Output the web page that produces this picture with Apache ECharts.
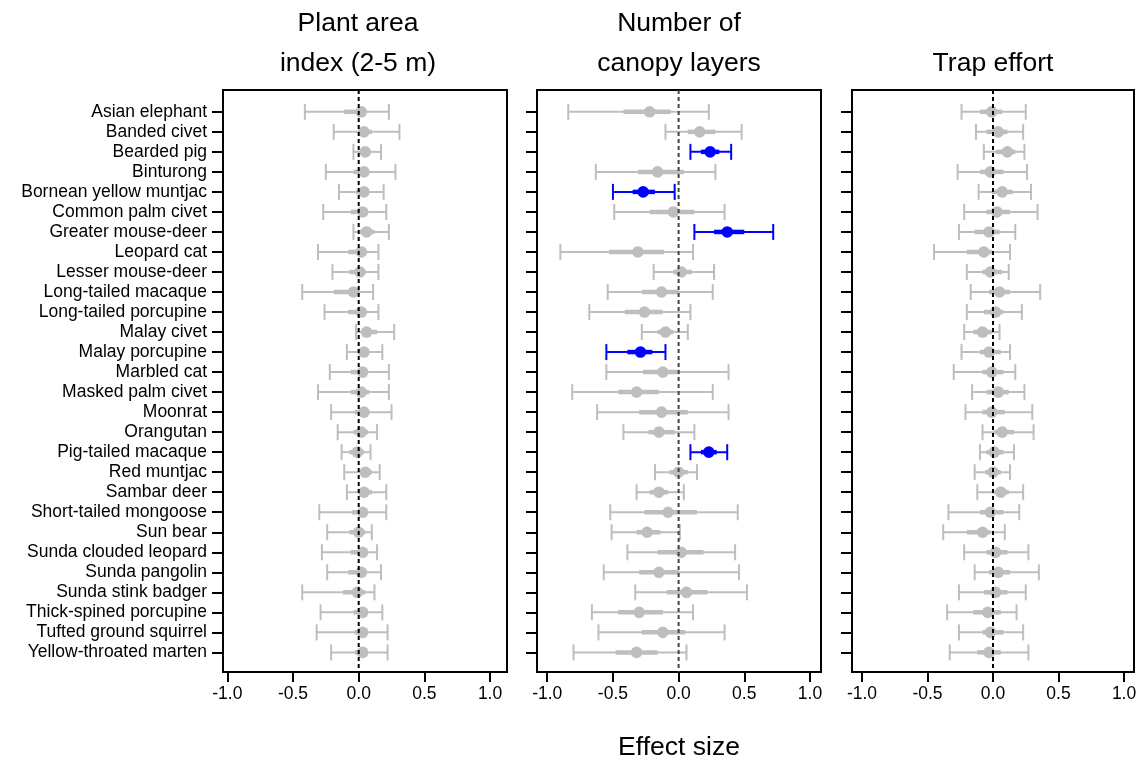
<!DOCTYPE html>
<html>
<head>
<meta charset="utf-8">
<script src="https://cdn.jsdelivr.net/npm/echarts@6/dist/echarts.min.js"></script>
<style>
html,body{margin:0;padding:0;background:#fff;}
#chart{width:1146px;height:763px;}
</style>
</head>
<body>
<div id="chart"></div>
<script>
const species = ["Asian elephant","Banded civet","Bearded pig","Binturong","Bornean yellow muntjac","Common palm civet","Greater mouse-deer","Leopard cat","Lesser mouse-deer","Long-tailed macaque","Long-tailed porcupine","Malay civet","Malay porcupine","Marbled cat","Masked palm civet","Moonrat","Orangutan","Pig-tailed macaque","Red muntjac","Sambar deer","Short-tailed mongoose","Sun bear","Sunda clouded leopard","Sunda pangolin","Sunda stink badger","Thick-spined porcupine","Tufted ground squirrel","Yellow-throated marten"];
const xTicks = [-1, -0.5, 0, 0.5, 1];

// Panel 1: Plant area index (2-5 m)
const paiEst  = [0.02,0.04,0.05,0.04,0.04,0.03,0.06,0.02,0.01,-0.04,0.02,0.06,0.04,0.03,0.02,0.04,0.02,-0.01,0.05,0.04,0.03,0.00,0.03,0.02,-0.01,0.03,0.03,0.03];
const paiLo   = [-0.41,-0.19,-0.04,-0.25,-0.15,-0.27,-0.04,-0.31,-0.20,-0.43,-0.26,-0.02,-0.09,-0.22,-0.31,-0.21,-0.16,-0.13,-0.11,-0.09,-0.30,-0.24,-0.28,-0.24,-0.43,-0.29,-0.32,-0.21];
const paiHi   = [0.23,0.31,0.17,0.28,0.19,0.21,0.23,0.15,0.15,0.11,0.15,0.27,0.18,0.23,0.23,0.25,0.14,0.09,0.16,0.21,0.21,0.10,0.14,0.17,0.12,0.18,0.22,0.22];
const paiLoIn = [-0.11,0.00,0.01,-0.04,-0.02,-0.06,0.01,-0.08,-0.07,-0.19,-0.08,0.02,-0.01,-0.06,-0.06,-0.03,-0.04,-0.07,0.01,0.00,-0.05,-0.07,-0.06,-0.08,-0.12,-0.04,-0.03,-0.03];
const paiHiIn = [0.05,0.10,0.09,0.07,0.08,0.07,0.12,0.06,0.05,0.01,0.06,0.14,0.08,0.07,0.08,0.08,0.07,0.04,0.10,0.10,0.07,0.05,0.07,0.06,0.05,0.07,0.07,0.07];
const paiSig  = [];

// Panel 2: Number of canopy layers
const canEst  = [-0.22,0.16,0.24,-0.16,-0.27,-0.04,0.37,-0.31,0.02,-0.13,-0.26,-0.10,-0.29,-0.12,-0.32,-0.13,-0.15,0.23,0.00,-0.15,-0.08,-0.24,0.02,-0.15,0.06,-0.30,-0.12,-0.32];
const canLo   = [-0.84,-0.10,0.09,-0.63,-0.50,-0.49,0.12,-0.90,-0.19,-0.54,-0.68,-0.28,-0.55,-0.55,-0.81,-0.62,-0.42,0.09,-0.18,-0.32,-0.52,-0.51,-0.39,-0.57,-0.33,-0.66,-0.61,-0.80];
const canHi   = [0.23,0.48,0.40,0.28,-0.03,0.35,0.72,0.11,0.27,0.26,0.09,0.07,-0.10,0.38,0.26,0.38,0.12,0.37,0.14,0.04,0.45,0.01,0.43,0.46,0.52,0.11,0.35,0.06];
const canLoIn = [-0.42,0.07,0.17,-0.31,-0.35,-0.22,0.27,-0.53,-0.04,-0.28,-0.41,-0.16,-0.39,-0.27,-0.46,-0.30,-0.23,0.17,-0.07,-0.22,-0.26,-0.32,-0.16,-0.30,-0.09,-0.46,-0.28,-0.48];
const canHiIn = [-0.06,0.28,0.31,0.04,-0.18,0.12,0.50,-0.11,0.10,0.00,-0.12,-0.04,-0.20,0.01,-0.15,0.07,-0.03,0.29,0.07,-0.08,0.14,-0.14,0.19,0.00,0.22,-0.12,0.05,-0.16];
const canSig  = [2,4,6,12,17];

// Panel 3: Trap effort
const trapEst  = [-0.01,0.04,0.11,-0.02,0.07,0.03,-0.03,-0.07,-0.02,0.05,0.02,-0.08,-0.03,-0.01,0.04,-0.01,0.07,0.01,0.00,0.06,-0.02,-0.08,0.02,0.04,0.02,-0.04,-0.02,-0.03];
const trapLo   = [-0.24,-0.13,-0.07,-0.27,-0.11,-0.22,-0.26,-0.45,-0.20,-0.17,-0.20,-0.22,-0.24,-0.30,-0.16,-0.21,-0.08,-0.10,-0.14,-0.12,-0.34,-0.38,-0.22,-0.14,-0.26,-0.35,-0.26,-0.33];
const trapHi   = [0.25,0.23,0.24,0.26,0.29,0.34,0.17,0.13,0.12,0.36,0.22,0.05,0.13,0.17,0.24,0.30,0.31,0.16,0.13,0.23,0.20,0.09,0.27,0.35,0.25,0.18,0.23,0.27];
const trapLoIn = [-0.10,-0.05,0.02,-0.10,-0.01,-0.05,-0.14,-0.20,-0.08,-0.03,-0.07,-0.15,-0.10,-0.08,-0.05,-0.08,0.01,-0.05,-0.06,0.01,-0.10,-0.20,-0.05,-0.03,-0.07,-0.15,-0.08,-0.12];
const trapHiIn = [0.07,0.11,0.17,0.08,0.15,0.13,0.05,-0.01,0.07,0.13,0.08,-0.01,0.06,0.08,0.12,0.09,0.16,0.08,0.06,0.12,0.08,-0.02,0.11,0.13,0.11,0.06,0.08,0.06];
const trapSig  = [];

const panelTitles = [["Plant area","index (2-5 m)"],["Number of","canopy layers"],["","Trap effort"]];
const xAxisTitle = "Effect size";

const GREY = '#BEBEBE', BLUE = '#0000FF';
const FONT = '"Liberation Sans", Arial, Helvetica, sans-serif';
const LABEL_SIZE = 17.5, TITLE_SIZE = 26.5;

function buildData(est, lo, hi, loIn, hiIn, sig) {
  return species.map((s, i) => [est[i], i, lo[i], hi[i], loIn[i], hiIn[i], sig.indexOf(i) >= 0 ? 1 : 0]);
}

function renderItem(params, api) {
  const y = api.value(1);
  const p = api.coord([api.value(0), y]);
  const l = api.coord([api.value(2), y]);
  const h = api.coord([api.value(3), y]);
  const li = api.coord([api.value(4), y]);
  const hi = api.coord([api.value(5), y]);
  const c = api.value(6) ? BLUE : GREY;
  const cap = 8;
  return {
    type: 'group',
    children: [
      {type:'line', shape:{x1:l[0],y1:l[1],x2:h[0],y2:h[1]}, style:{stroke:c,lineWidth:2}},
      {type:'line', shape:{x1:l[0],y1:l[1]-cap,x2:l[0],y2:l[1]+cap}, style:{stroke:c,lineWidth:2}},
      {type:'line', shape:{x1:h[0],y1:h[1]-cap,x2:h[0],y2:h[1]+cap}, style:{stroke:c,lineWidth:2}},
      {type:'line', shape:{x1:li[0],y1:li[1],x2:hi[0],y2:hi[1]}, style:{stroke:c,lineWidth:4.5}},
      {type:'circle', shape:{cx:p[0],cy:p[1],r:5.8}, style:{fill:c}}
    ]
  };
}

const panels = [
  {left:223, width:284, min:-1.033, max:1.129, data:buildData(paiEst,paiLo,paiHi,paiLoIn,paiHiIn,paiSig), labels:true, zeroColor:'#000'},
  {left:537, width:284, min:-1.078, max:1.084, data:buildData(canEst,canLo,canHi,canLoIn,canHiIn,canSig), labels:false, zeroColor:'#444'},
  {left:852, width:282, min:-1.076, max:1.076, data:buildData(trapEst,trapLo,trapHi,trapLoIn,trapHiIn,trapSig), labels:false, zeroColor:'#000'}
];
const titleX = [358, 679, 993];

const YMIN = -1.09, YMAX = 27.98;
const rowTicks = species.map((s, i) => i);

const option = {
  animation: false,
  backgroundColor: '#fff',
  grid: panels.map(p => ({left:p.left, width:p.width, top:90, height:582, show:true, borderColor:'#000', borderWidth:2, backgroundColor:'transparent', containLabel:false})),
  xAxis: panels.map((p, k) => ({
    type:'value', gridIndex:k, min:p.min, max:p.max, position:'bottom',
    axisLine:{show:false, onZero:false},
    splitLine:{show:false},
    axisTick:{show:true, inside:false, length:10, lineStyle:{color:'#000', width:2}, customValues:xTicks},
    axisLabel:{show:true, margin:13, color:'#000', fontSize:LABEL_SIZE, fontFamily:FONT, customValues:xTicks,
      formatter: v => v.toFixed(1)}
  })),
  yAxis: panels.map((p, k) => ({
    type:'value', gridIndex:k, min:YMIN, max:YMAX, inverse:true, position:'left',
    axisLine:{show:false, onZero:false},
    splitLine:{show:false},
    axisTick:{show:true, inside:false, length:11, lineStyle:{color:'#000', width:2}, customValues:rowTicks},
    axisLabel:{show:p.labels, margin:16, color:'#000', fontSize:LABEL_SIZE, fontFamily:FONT, customValues:rowTicks,
      formatter: v => species[Math.round(v)] || ''}
  })),
  series: panels.flatMap((p, k) => [
    {type:'custom', xAxisIndex:k, yAxisIndex:k, renderItem:renderItem, data:p.data,
     encode:{x:[0,2,3,4,5], y:1}, z:2, silent:true},
    {type:'line', xAxisIndex:k, yAxisIndex:k, data:[[0,YMIN],[0,YMAX]], symbol:'none', z:5, silent:true,
     lineStyle:{color:p.zeroColor, width:2, type:[4,3]}}
  ]),
  graphic: [
    ...panels.flatMap((p, k) => panelTitles[k].map((t, j) => ({
      type:'text', x: titleX[k], y: j === 0 ? 24 : 64,
      style:{text:t, fontSize:TITLE_SIZE, fontFamily:FONT, fill:'#000', align:'center', verticalAlign:'middle'}
    }))),
    {type:'text', x:679, y:748, style:{text:xAxisTitle, fontSize:TITLE_SIZE, fontFamily:FONT, fill:'#000', align:'center', verticalAlign:'middle'}}
  ]
};

const chart = echarts.init(document.getElementById('chart'), null, {renderer:'canvas'});
chart.setOption(option);
</script>
</body>
</html>
